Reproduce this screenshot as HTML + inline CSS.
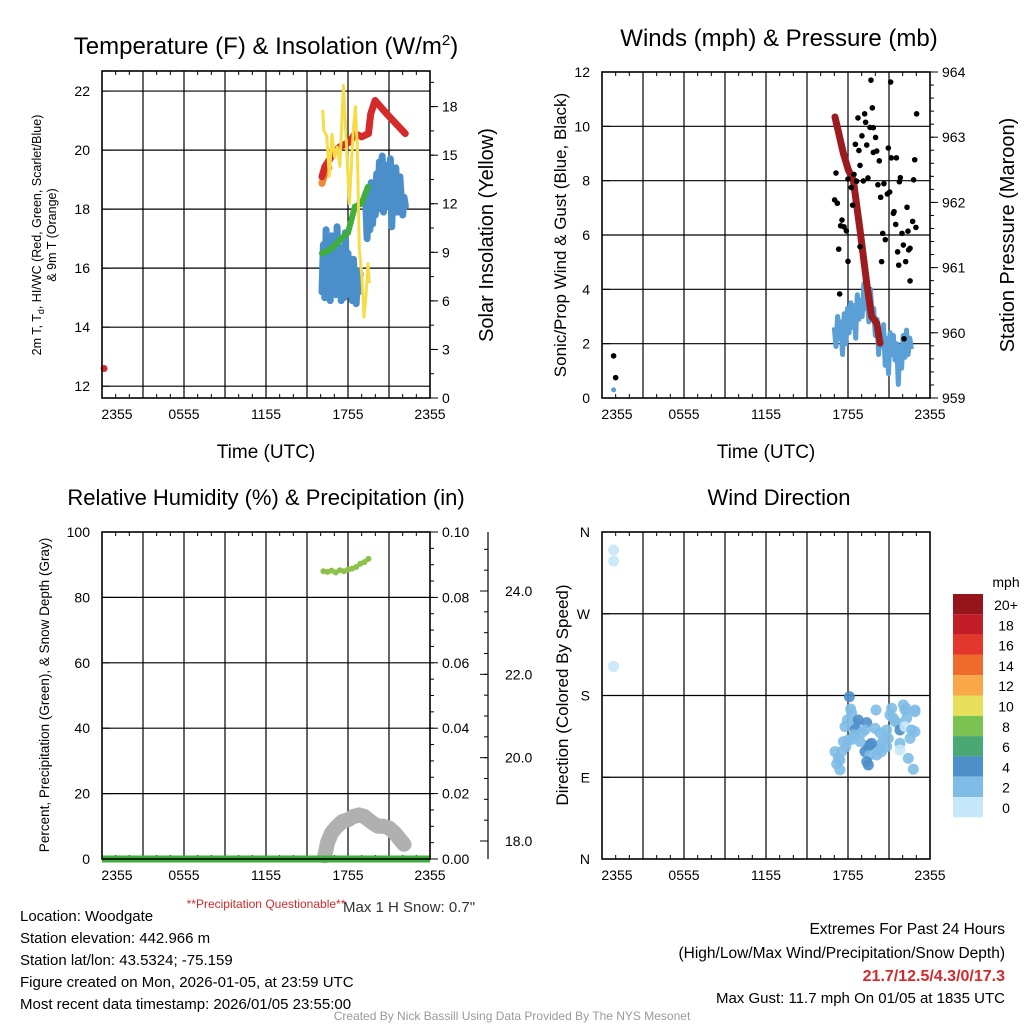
<!DOCTYPE html>
<html><head><meta charset="utf-8"><style>
html,body{margin:0;padding:0;background:#fff;}
svg{display:block;font-family:"Liberation Sans",Arial,sans-serif;}
</style></head><body>
<svg id="c" width="1024" height="1024" viewBox="0 0 1024 1024"></svg>
<script>
// ---------- DATA ----------
const tempT = [0.15];
const tempV = [12.6];
const temp2T = [16.1,16.3,16.93,17.41,18.15,18.51,19.0,19.5,19.66,19.98,20.83,22.19];
const temp2V = [19.1,19.43,19.89,20.11,20.28,20.56,20.45,20.56,21.23,21.68,21.23,20.56];
const t9mT = [16.1,16.3,16.6];
const t9mV = [18.87,19.2,19.4];
const dewT = [16.1,16.6,17.1,17.5,18.0,18.5,19.0,19.46];
const dewV = [16.5,16.6,16.8,17.0,17.2,18.08,18.2,18.76];
const wcT1 = [16.1,16.2,16.3,16.4,16.5,16.6,16.7,16.8,16.9,17.0,17.1,17.2,17.3,17.4,17.5,17.6,17.7,17.8,17.9,18.0,18.1,18.2,18.3,18.4,18.5,18.6,18.7,18.8,18.9];
const wcV1 = [15.2,16.8,15.0,17.3,15.5,16.9,14.9,17.1,15.8,16.0,15.1,17.4,15.3,16.7,14.9,16.2,15.0,17.2,15.4,16.5,15.1,16.0,14.9,16.3,15.2,14.8,15.9,15.2,15.8];
const wcT2 = [19.3,19.4,19.5,19.6,19.7,19.8,19.9,20.0,20.1,20.2,20.3,20.4,20.5,20.6,20.7,20.8,20.9,21.0,21.1,21.2,21.3,21.4,21.5,21.6,21.7,21.8,21.9,22.0,22.1,22.2];
const wcV2 = [18.2,17.0,18.6,17.3,18.9,17.5,18.4,17.8,19.2,18.0,19.6,18.3,19.8,17.9,19.5,18.1,19.0,18.4,19.7,17.4,18.8,18.2,19.4,17.9,18.6,19.1,18.3,17.8,18.4,18.1];
const solT = [16.15,16.24,16.44,16.63,16.83,17.02,17.22,17.41,17.66,17.85,18.1,18.39,18.54,18.68,18.83,19.02,19.17,19.32,19.46,19.56];
const solV = [17.8,16.5,16.2,13.7,16.3,14.9,15.5,14.3,19.3,16.2,12.0,16.6,18.0,15.5,9.2,7.5,5.0,6.3,8.3,7.1];
const gustT = [0.85,1.0,19.68,21.12,19.78,19.22,18.73,23.02,19.29,19.61,19.85,20.02,19.02,18.54,19.37,20.95,18.80,20.10,19.85,20.29,21.17,21.54,22.88,18.88,17.12,18.44,18.0,18.63,19.46,19.12,21.83,22.8,20.19,20.63,21.76,18.24,20.39,20.88,21.05,17.02,17.22,18.34,21.32,21.37,22.32,17.56,17.46,17.71,17.88,21.49,22.73,22.97,22.39,20.54,21.95,20.73,22.05,22.54,22.44,17.32,21.63,18.88,18.0,20.46,21.71,22.22,22.54,17.39,22.10];
const gustV = [1.55,0.75,11.70,11.63,10.68,10.46,10.31,10.46,10.15,9.96,9.95,9.59,9.65,9.34,9.31,9.2,9.11,9.09,9.04,8.73,8.84,8.84,8.77,8.56,8.28,8.23,8.06,7.98,8.1,7.99,8.11,8.03,7.85,7.89,7.96,7.75,7.39,7.51,7.58,7.29,7.17,7.1,6.8,6.86,7.02,6.55,6.34,6.3,6.15,6.39,6.5,6.28,6.14,6.06,6.06,5.83,5.63,5.51,5.45,5.48,5.38,5.57,5.03,5.02,4.89,5.02,4.31,3.83,2.18];
const windStart = 17.0, windStep = 0.12;
const windV = [2.6,1.9,3.0,2.2,2.8,1.6,3.1,2.0,3.3,2.4,3.5,2.6,3.4,2.2,3.8,2.9,3.6,3.0,4.2,3.3,3.9,2.8,4.0,3.1,3.3,2.3,2.9,1.6,2.5,1.9,2.7,1.2,2.2,0.9,2.4,1.6,2.3,1.4,2.0,0.5,1.9,1.1,2.3,1.5,2.5,1.6,2.2,1.8];
const windEarlyT = [0.85];
const windEarlyV = [0.3];
const presT = [17.05,17.66,18.02,18.39,18.88,19.37,19.73,20.1,20.34];
const presV = [963.31,962.75,962.5,962.34,961.58,960.76,960.25,960.15,959.84];
const rhT = [16.2,16.5,16.8,17.1,17.4,17.7,18.0,18.3,18.6,18.9,19.2,19.5];
const rhV = [88.0,87.8,88.2,87.6,88.3,88.0,88.5,88.8,89.3,90.3,90.8,91.8];
const snowT = [16.3,16.5,16.8,17.2,17.6,18.0,18.4,18.8,19.2,19.5,19.8,20.2,20.6,21.0,21.4,21.8,22.1];
const snowV = [1,5,8,10,11.5,12,13,13.5,13,12,11,10,10,9.5,8,6,4.5];
const dirT = [0.85,0.85,0.85,18.10,18.19,18.27,17.95,17.78,18.58,18.75,19.37,19.24,18.51,18.44,19.0,18.02,17.66,18.27,17.85,17.05,17.54,17.29,17.17,17.41,20.05,21.19,22.05,22.24,22.90,22.90,21.07,21.32,21.44,21.68,21.80,22.29,22.17,19.98,20.34,20.83,20.58,20.95,20.34,20.22,19.73,19.49,19.24,19.61,20.10,20.46,20.83,21.80,22.54,22.90,22.66,21.80,22.41,22.78,19.37,19.49,19.56,17.41,18.88,22.17];
const dirV = [340,328,212,178.7,165.2,160.4,153.0,145.7,148.7,153.0,150.1,142.0,142.7,136.5,139.1,131.0,129.2,131.7,123.7,118.2,118.2,110.8,104.6,98.1,164.0,165.9,169.6,165.9,164.0,162.2,158.6,154.9,151.2,149.4,142.0,154.9,145.7,143.8,139.1,142.0,131.0,132.8,125.5,120.0,127.3,123.7,118.2,114.5,114.5,118.2,123.7,127.3,132.8,140.2,142.0,120.0,110.8,98.8,107.2,103.5,125.5,109.0,129.2,164.0];
const dirS = [1,1,1,5,3,3,3,3,3,4,4,3,4,3,3,3,3,3,3,3,3,3,3,3,3,3,3,3,3,3,3,3,3,3,4,3,1,3,3,3,3,3,3,3,4,4,4,3,3,3,3,3,3,3,3,1,3,3,5,4,4,3,3,3];
const cbLabels = ["20+","18","16","14","12","10","8","6","4","2","0"];
const cbColors = ["#96151a","#c21d26","#e2372a","#f06a2c","#f8a848","#e8e05a","#7cc250","#4aa873","#4d8fc9","#7fbde6","#c6e7f9"];

// ---------- HELPERS ----------
const NS="http://www.w3.org/2000/svg";
const svg=document.getElementById('c');
function el(tag,attrs,parent,txt){const e=document.createElementNS(NS,tag);for(const k in attrs)e.setAttribute(k,attrs[k]);if(txt!==undefined)e.textContent=txt;(parent||svg).appendChild(e);return e;}
function lin(d0,d1,r0,r1){return v=>r0+(v-d0)/(d1-d0)*(r1-r0);}
function text(x,y,s,size,opts,parent){opts=opts||{};const a={x:x,y:y,'font-size':size,fill:opts.fill||'#000','text-anchor':opts.anchor||'middle'};if(opts.rot)a.transform='rotate('+opts.rot+' '+x+' '+y+')';if(opts.weight)a['font-weight']=opts.weight;const t=el('text',a,parent,s);return t;}
function path(xs,ys,sx,sy){return xs.map((v,i)=>(i?'L':'M')+sx(v).toFixed(1)+' '+sy(ys[i]).toFixed(1)).join(' ');}
const timeLabels=["2355","0555","1155","1755","2355"];

function panel(name,x0,x1,y0,y1,yl0,yl1,yMajor,yLabels){
  const g=el('g',{},svg);
  
  
  const sx=lin(0,24,x0,x1), sy=lin(yl0,yl1,y1,y0);
  for(let h=3;h<24;h+=3){el('line',{x1:sx(h),x2:sx(h),y1:y0,y2:y1,stroke:'#000','stroke-width':1.2},g);}
  yMajor.forEach(v=>{if(v>yl0&&v<yl1)el('line',{x1:x0,x2:x1,y1:sy(v),y2:sy(v),stroke:'#000','stroke-width':1.2},g);});
  for(let h=0;h<=24;h+=1){const L=h%6===0?8:4;el('line',{x1:sx(h),x2:sx(h),y1:y1,y2:y1-L,stroke:'#000'},g);el('line',{x1:sx(h),x2:sx(h),y1:y0,y2:y0+L,stroke:'#000'},g);}
  timeLabels.forEach((s,i)=>{const t=text(sx(i*6)+(i===0?15:0),y1+21,s,14,{},g);});
  yMajor.forEach((v,i)=>{el('line',{x1:x0,x2:x0+8,y1:sy(v),y2:sy(v),stroke:'#000'},g);const t=text(x0-12,sy(v)+5,yLabels[i],14,{anchor:'end'},g);});
  return {g,sx,sy};
}
function frame(g,x0,x1,y0,y1){el('rect',{x:x0,y:y0,width:x1-x0,height:y1-y0,fill:'none',stroke:'#000','stroke-width':1.6},g);}
function rightAxis(g,x,y0,y1,r0,r1,vals,labels,minorStep,dx){
  const sy=lin(r0,r1,y1,y0);
  for(let v=r0;v<=r1+1e-9;v+=minorStep){el('line',{x1:x,x2:x+4,y1:sy(v),y2:sy(v),stroke:'#000'},g);}
  vals.forEach((v,i)=>{el('line',{x1:x,x2:x+8,y1:sy(v),y2:sy(v),stroke:'#000'},g);const t=text(x+(dx||12),sy(v)+5,labels[i],14,{anchor:'start'},g);});
  return sy;
}

// ---------- PANEL 1 ----------
{
const p=panel('temperature-panel',102,430,71,398,11.6,22.68,[12,14,16,18,20,22],["12","14","16","18","20","22"]);
const g=p.g,sx=p.sx,sy=p.sy;
const sy2=rightAxis(g,430,71,398,0,20.2,[0,3,6,9,12,15,18],["0","3","6","9","12","15","18"],1.5);
let e;
e=el('path',{d:path(wcT1,wcV1,sx,sy),fill:'none',stroke:'#4a8fc9','stroke-width':7,'stroke-linejoin':'round','stroke-linecap':'round'},g);


e=el('path',{d:path(wcT2,wcV2,sx,sy),fill:'none',stroke:'#4a8fc9','stroke-width':7,'stroke-linejoin':'round','stroke-linecap':'round'},g);


e=el('path',{d:path(dewT,dewV,sx,sy),fill:'none',stroke:'#3fae3c','stroke-width':6,'stroke-linecap':'round'},g);


e=el('path',{d:path(t9mT,t9mV,sx,sy),fill:'none',stroke:'#f08a30','stroke-width':7,'stroke-linecap':'round'},g);


e=el('path',{d:path(temp2T,temp2V,sx,sy),fill:'none',stroke:'#d42a2a','stroke-width':7,'stroke-linecap':'round','stroke-linejoin':'round'},g);


tempT.forEach((t,i)=>{const c=el('circle',{cx:sx(t),cy:sy(tempV[i]),r:3.5,fill:'#d42a2a'},g);});
e=el('path',{d:path(solT,solV,sx,sy2),fill:'none',stroke:'#f7dc4a','stroke-width':3,'stroke-linejoin':'round'},g);


frame(g,102,430,71,398);
const ti=el('text',{x:266,y:54,'font-size':24,'text-anchor':'middle'},g);


ti.textContent='Temperature (F) & Insolation (W/m';
el('tspan',{dy:-9,'font-size':15},ti,'2');el('tspan',{dy:9},ti,')');
const a=text(266,458,'Time (UTC)',19,{},g);
const b=text(493,235,'Solar Insolation (Yellow)',20,{rot:-90},g);
const c1=el('text',{x:41,y:235,'font-size':12.5,'text-anchor':'middle',transform:'rotate(-90 41 235)'},g);


el('tspan',{},c1,'2m T, T');el('tspan',{dy:3,'font-size':9},c1,'d');el('tspan',{dy:-3},c1,', HI/WC (Red, Green, Scarlet/Blue)');
const c2=text(56,235,'& 9m T (Orange)',12.5,{rot:-90},g);
}
// ---------- PANEL 2 ----------
{
const p=panel('winds-panel',602,930,72,398,0,12,[0,2,4,6,8,10,12],["0","2","4","6","8","10","12"]);
const g=p.g,sx=p.sx,sy=p.sy;
const sy2=rightAxis(g,930,72,398,959,964,[959,960,961,962,963,964],["959","960","961","962","963","964"],0.2);
const wT=windV.map((v,i)=>windStart+i*windStep);
let e=el('path',{d:path(wT,windV,sx,sy),fill:'none',stroke:'#5a9fd6','stroke-width':5,'stroke-linejoin':'round'},g);


windEarlyT.forEach((t,i)=>{const c=el('circle',{cx:sx(t),cy:sy(windEarlyV[i]),r:2.5,fill:'#5a9fd6'},g);});
e=el('path',{d:path(presT,presV,sx,sy2),fill:'none',stroke:'#9b1b1e','stroke-width':7,'stroke-linecap':'round','stroke-linejoin':'round'},g);


gustT.forEach((t,i)=>{const c=el('circle',{cx:sx(t),cy:sy(gustV[i]),r:2.8,fill:'#000'},g);});
frame(g,602,930,72,398);
const ti=text(779,46,'Winds (mph) & Pressure (mb)',24,{},g);
const a=text(766,458,'Time (UTC)',19,{},g);
const b=text(1014,235,'Station Pressure (Maroon)',20,{rot:-90},g);
const c=text(566,235,'Sonic/Prop Wind & Gust (Blue, Black)',17,{rot:-90},g);
}
// ---------- PANEL 3 ----------
{
const p=panel('humidity-panel',102,430,532,859,0,100,[0,20,40,60,80,100],["0","20","40","60","80","100"]);
const g=p.g,sx=p.sx,sy=p.sy;
rightAxis(g,430,532,859,0,0.1,[0,0.02,0.04,0.06,0.08,0.1],["0.00","0.02","0.04","0.06","0.08","0.10"],0.005);
el('line',{x1:488,x2:488,y1:532,y2:859,stroke:'#000','stroke-width':1.2},g);
const sSnow=lin(18,24,841,591);
[18,20,22,24].forEach(v=>{el('line',{x1:480,x2:488,y1:sSnow(v),y2:sSnow(v),stroke:'#000'},g);const t=text(505,sSnow(v)+5,v.toFixed(1),14,{anchor:'start'},g);});
for(let v=17;v<=25.5;v+=0.5){if(sSnow(v)>532&&sSnow(v)<859)el('line',{x1:484,x2:488,y1:sSnow(v),y2:sSnow(v),stroke:'#000'},g);}
let e=el('path',{d:path(snowT,snowV,sx,sy),fill:'none',stroke:'#b0b0b0','stroke-width':15,'stroke-linecap':'round','stroke-linejoin':'round'},g);


e=el('line',{x1:sx(0),x2:sx(24),y1:sy(0),y2:sy(0),stroke:'#3fae3c','stroke-width':7},g);


rhT.forEach((t,i)=>{const c=el('circle',{cx:sx(t),cy:sy(rhV[i]),r:3,fill:'#8cc24a'},g);});
e=el('path',{d:path(rhT,rhV,sx,sy),fill:'none',stroke:'#8cc24a','stroke-width':4},g);


frame(g,102,430,532,859);
const ti=text(266,505,'Relative Humidity (%) & Precipitation (in)',22,{},g);
const c=text(49,695,'Percent, Precipitation (Green), & Snow Depth (Gray)',13.5,{rot:-90},g);
const q=text(266,908,'**Precipitation Questionable**',12,{fill:'#d42a2a'},g);
const m=text(343,912,'Max 1 H Snow: 0.7"',15,{anchor:'start',fill:'#333'},g);
}
// ---------- PANEL 4 ----------
{
const p=panel('wind-direction-panel',602,930,532,859,0,360,[0,90,180,270,360],["N","E","S","W","N"]);
const g=p.g,sx=p.sx,sy=p.sy;
function colorFor(s){const idx=Math.min(10,Math.floor(s/2));return cbColors[10-idx];}
dirT.forEach((t,i)=>{const c=el('circle',{cx:sx(t),cy:sy(dirV[i]),r:5.5,fill:colorFor(dirS[i]),'fill-opacity':0.9},g);});
frame(g,602,930,532,859);
const ti=text(779,505,'Wind Direction',22,{},g);
const c=text(568,695,'Direction (Colored By Speed)',17,{rot:-90},g);
const cb=el('g',{},svg);


const u=text(1006,587,'mph',14,{},cb);
cbLabels.forEach((s,i)=>{const y=594+i*20.3;const r=el('rect',{x:953,y:y,width:30,height:20.3,fill:cbColors[i]},cb);const t=text(1006,y+16,s,14,{},cb);});
}
// ---------- FOOTER TEXT ----------
const left=["Location: Woodgate","Station elevation: 442.966 m","Station lat/lon: 43.5324; -75.159","Figure created on Mon, 2026-01-05, at 23:59 UTC","Most recent data timestamp: 2026/01/05 23:55:00"];
left.forEach((s,i)=>{const t=text(20,921+i*22,s,15,{anchor:'start'});});
let t;
t=text(1005,934,'Extremes For Past 24 Hours',15.5,{anchor:'end'});
t=text(1005,958,'(High/Low/Max Wind/Precipitation/Snow Depth)',15.5,{anchor:'end'});
t=text(1005,981,'21.7/12.5/4.3/0/17.3',16,{anchor:'end',fill:'#d42a2a',weight:'bold'});
t=text(1005,1003,'Max Gust: 11.7 mph On 01/05 at 1835 UTC',15,{anchor:'end'});
t=text(512,1020,'Created By Nick Bassill Using Data Provided By The NYS Mesonet',12,{fill:'#999'});
</script>
</body></html>
